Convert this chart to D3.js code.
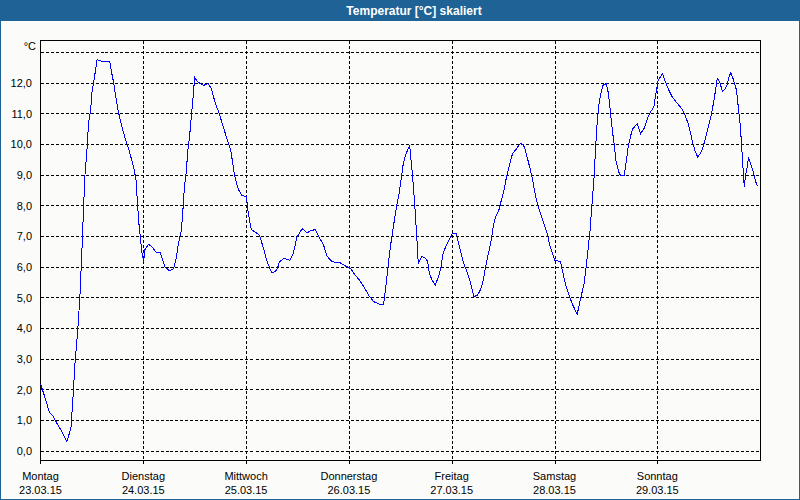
<!DOCTYPE html>
<html>
<head>
<meta charset="utf-8">
<script src="https://cdn.jsdelivr.net/npm/d3@7/dist/d3.min.js"></script>
<style>
  html, body { margin: 0; padding: 0; background: #fbfcfa; }
  svg { display: block; }
  text { font-family: "Liberation Sans", Arial, sans-serif; }
</style>
</head>
<body>
<svg id="chart" width="800" height="500"></svg>
<script>
// ---- data ----
const title = "Temperatur [°C] skaliert";
const unitLabel = "°C";
const dayNames = ["Montag", "Dienstag", "Mittwoch", "Donnerstag", "Freitag", "Samstag", "Sonntag"];
const dayDates = ["23.03.15", "24.03.15", "25.03.15", "26.03.15", "27.03.15", "28.03.15", "29.03.15"];
const yTicks = [0, 1, 2, 3, 4, 5, 6, 7, 8, 9, 10, 11, 12];
const yGrid = [0, 1, 2, 3, 4, 5, 6, 7, 8, 9, 10, 11, 12, 13];
// hours since Monday 00:00
const hours = [0,1.1,2.1,3.0,4.05,5.1,6.15,7.1,7.55,8.1,8.7,9.2,9.5,9.8,10.1,10.4,10.9,11.2,11.7,12.0,12.5,13.2,14.3,16.2,16.5,17.1,17.7,18.2,19.0,19.9,20.7,21.3,21.9,22.3,22.6,22.9,23.3,23.7,24.1,24.3,25.2,26.0,26.9,27.96,28.5,29.1,30.1,31.1,31.6,32.2,32.9,33.3,33.6,34.0,34.4,34.8,35.2,35.5,36.0,36.5,37.3,38.1,39.1,39.9,40.4,41.0,41.6,42.2,42.8,43.4,43.9,44.4,44.9,45.3,45.8,46.3,47.0,48.1,48.4,48.8,49.2,50.0,51.1,51.6,52.2,52.8,53.4,54.0,54.8,55.3,55.8,56.8,58.2,59.0,59.9,61.1,62.2,63.0,64.2,65.2,66.1,66.9,68.1,69.9,71.2,72.4,73.5,74.5,75.5,76.6,77.8,79.0,80.1,80.8,81.3,81.9,82.5,83.1,83.7,84.2,84.7,85.2,85.7,86.2,86.8,87.3,87.8,88.2,89.0,89.9,90.4,90.8,91.4,92.2,93.0,93.5,94.0,94.6,95.3,96.1,97.1,97.7,98.3,98.8,99.6,100.2,100.8,101.2,102.0,102.7,103.4,103.9,104.4,105.1,105.7,106.2,107.0,107.6,108.2,108.8,109.6,110.2,110.9,111.7,112.2,113.0,113.6,114.4,114.9,115.6,116.2,117.0,117.5,118.3,118.8,119.5,120.1,121.4,122.0,122.6,123.4,124.1,125.3,126.1,126.9,127.4,127.9,128.3,128.7,129.0,129.3,129.6,130.0,130.4,130.8,131.3,132.1,132.6,133.1,133.6,134.0,134.4,135.0,135.4,136.3,136.8,137.2,137.8,138.3,139.3,140.1,140.9,141.7,142.4,143.2,143.8,144.2,145.2,145.9,146.7,147.5,148.7,149.7,150.5,151.2,151.8,152.3,152.9,153.4,154.1,154.7,155.3,155.9,156.5,157.1,157.6,158.0,158.6,159.2,159.8,160.4,160.7,161.2,161.8,162.5,162.9,163.4,163.7,164.0,164.3,164.6,165.0,165.3,165.8,166.4,167.0,167.4];
const temps = [2.2,1.73,1.26,1.13,0.86,0.61,0.32,0.75,1.67,2.97,3.95,5.04,6.0,7.0,8.08,9.05,9.92,10.68,11.1,11.7,12.1,12.77,12.72,12.7,12.42,12.0,11.44,11.06,10.58,10.14,9.8,9.49,9.16,8.84,8.19,7.53,6.99,6.45,6.18,6.56,6.75,6.67,6.5,6.48,6.23,6.01,5.88,5.96,6.23,6.78,7.21,7.97,8.62,9.06,9.82,10.25,10.9,11.34,12.2,12.07,11.99,11.93,11.99,11.82,11.55,11.28,11.06,10.79,10.52,10.25,10.03,9.82,9.38,9.0,8.73,8.51,8.35,8.3,7.86,7.53,7.23,7.16,7.05,6.83,6.56,6.23,6.01,5.83,5.85,5.96,6.18,6.29,6.23,6.45,6.99,7.26,7.12,7.19,7.23,6.94,6.72,6.36,6.18,6.15,6.04,5.96,5.74,5.58,5.36,5.09,4.88,4.8,4.8,5.58,6.23,6.88,7.43,7.97,8.4,8.89,9.38,9.65,9.82,9.95,9.06,8.19,7.1,6.12,6.36,6.29,6.18,5.8,5.58,5.42,5.74,6.01,6.45,6.67,6.88,7.1,7.1,6.72,6.4,6.12,5.85,5.58,5.26,5.04,5.09,5.26,5.58,6.01,6.34,6.78,7.32,7.64,7.86,8.19,8.51,8.95,9.38,9.71,9.82,9.98,10.05,9.92,9.6,9.16,8.84,8.3,7.97,7.64,7.43,7.1,6.78,6.45,6.23,6.18,5.8,5.42,5.09,4.82,4.47,4.98,5.47,6.01,6.67,7.21,7.97,8.51,9.06,9.92,10.79,11.34,11.66,11.93,11.99,11.66,11.0,10.36,9.92,9.43,9.11,9.0,9.0,9.49,9.92,10.3,10.52,10.68,10.36,10.52,10.85,11.06,11.23,11.77,12.1,12.31,12.04,11.77,11.55,11.34,11.17,10.96,10.68,10.36,10.03,9.76,9.6,9.71,9.92,10.25,10.58,10.9,11.34,11.77,12.15,12.04,11.72,11.82,11.99,12.2,12.35,12.1,11.77,11.23,10.58,9.92,9.27,8.62,9.0,9.27,9.58,9.38,9.11,8.78,8.64];

// ---- layout ----
const W = 800, H = 500;
const plot = { left: 40.5, right: 760.5, top: 40.5, bottom: 460.5 };
const svg = d3.select("#chart");

const x = d3.scaleLinear().domain([0, 168]).range([40.5, 760.1]);
const y = d3.scaleLinear().domain([-0.3, 13.4]).range([460.5, 40.3]);
const snap = v => Math.floor(v) + 0.5;

// window background + border
svg.append("rect").attr("x", 0).attr("y", 0).attr("width", W).attr("height", H).attr("fill", "#fbfcfa");
svg.append("rect").attr("x", 0.5).attr("y", 0.5).attr("width", W - 1).attr("height", H - 1)
  .attr("fill", "none").attr("stroke", "#1e6296").attr("stroke-width", 1);
svg.append("rect").attr("x", 0).attr("y", 0).attr("width", W).attr("height", 21).attr("fill", "#1e6296");
svg.append("text").attr("x", 414).attr("y", 14.5).attr("text-anchor", "middle")
  .attr("fill", "#ffffff").attr("font-weight", "bold").attr("font-size", "12px").text(title);

// horizontal grid
svg.append("g").selectAll("line").data(yGrid).join("line")
  .attr("x1", plot.left).attr("x2", plot.right)
  .attr("y1", d => snap(y(d))).attr("y2", d => snap(y(d)))
  .attr("stroke", "#000").attr("stroke-width", 1).attr("stroke-dasharray", "3,2")
  .attr("shape-rendering", "crispEdges");

// vertical grid (days 1..6), extending slightly below the axis
const dayIdx = d3.range(1, dayNames.length);
svg.append("g").selectAll("line").data(dayIdx).join("line")
  .attr("x1", d => Math.round(x(d * 24)) + 0.5).attr("x2", d => Math.round(x(d * 24)) + 0.5)
  .attr("y1", plot.top).attr("y2", 464)
  .attr("stroke", "#000").attr("stroke-width", 1).attr("stroke-dasharray", "3,2")
  .attr("shape-rendering", "crispEdges");
// tick below the axis at Monday
svg.append("line").attr("x1", plot.left).attr("x2", plot.left).attr("y1", plot.bottom).attr("y2", 464)
  .attr("stroke", "#000").attr("shape-rendering", "crispEdges");

// frame
svg.append("rect").attr("x", plot.left).attr("y", plot.top)
  .attr("width", plot.right - plot.left).attr("height", plot.bottom - plot.top)
  .attr("fill", "none").attr("stroke", "#000").attr("stroke-width", 1).attr("shape-rendering", "crispEdges");

// y labels
const fmt = v => d3.format(".1f")(v).replace(".", ",");
svg.append("g").selectAll("text").data(yTicks).join("text")
  .attr("x", 32).attr("y", d => y(d)).attr("dy", "0.35em").attr("text-anchor", "end")
  .attr("font-size", "11px").attr("fill", "#000").text(fmt);
svg.append("text").attr("x", 36).attr("y", 46).attr("dy", "0.35em").attr("text-anchor", "end")
  .attr("font-size", "11px").attr("fill", "#000").text(unitLabel);

// x labels
const xl = svg.append("g").selectAll("g").data(dayNames).join("g");
xl.append("text").attr("x", (d, i) => x(i * 24)).attr("y", 479.5).attr("text-anchor", "middle")
  .attr("font-size", "11px").attr("fill", "#000").text(d => d);
xl.append("text").attr("x", (d, i) => x(i * 24)).attr("y", 494).attr("text-anchor", "middle")
  .attr("font-size", "11px").attr("fill", "#000").text((d, i) => dayDates[i]);

// series line (aliased, like the reference)
const pts = hours.map((h, i) => [h, temps[i]]);
const line = d3.line().x(d => x(d[0])).y(d => y(d[1]));
svg.append("path").datum(pts).attr("d", line)
  .attr("fill", "none").attr("stroke", "#0000ff").attr("stroke-width", 1)
  .attr("shape-rendering", "crispEdges");
</script>
</body>
</html>
